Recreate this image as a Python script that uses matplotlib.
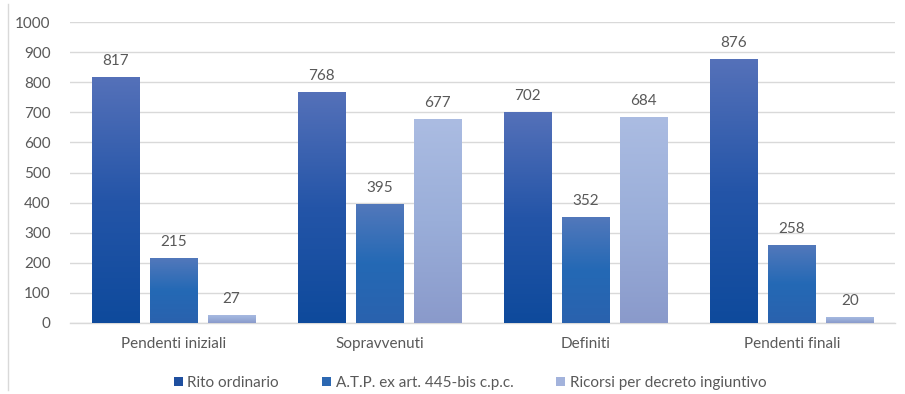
import numpy as np
import matplotlib
matplotlib.use("Agg")
import matplotlib.pyplot as plt
from matplotlib.colors import LinearSegmentedColormap
from matplotlib.patches import Patch
from matplotlib.lines import Line2D

categories = ["Pendenti iniziali", "Sopravvenuti", "Definiti", "Pendenti finali"]
series_names = ["Rito ordinario", "A.T.P. ex art. 445-bis c.p.c.", "Ricorsi per decreto ingiuntivo"]
rito_ordinario = [817, 768, 702, 876]
atp = [215, 395, 352, 258]
decreto_ingiuntivo = [27, 677, 684, 20]
y_ticks = [0, 100, 200, 300, 400, 500, 600, 700, 800, 900, 1000]

series_values = [rito_ordinario, atp, decreto_ingiuntivo]
# gradient stops, bottom -> top
gradients = [
    ["#0e4a9c", "#2455a8", "#5571b9"],
    ["#2a62ae", "#2469b5", "#5278bb"],
    ["#8a9acb", "#9aaed9", "#abbce2"],
]
legend_colors = ["#1f4f9f", "#2c68b2", "#a3b3dc"]

plt.rcParams["font.family"] = ["Lato", "DejaVu Sans"]
text_color = "#595959"

fig = plt.figure(figsize=(9.05, 3.94), dpi=100)
ax = fig.add_axes([70 / 905, (394 - 323) / 394, 825 / 905, 301 / 394])

x = np.arange(len(categories))
width = 0.228
step = 0.281
offsets = [-step, 0, step]

grad = np.linspace(0, 1, 256).reshape(-1, 1)
for vals, off, stops in zip(series_values, offsets, gradients):
    cmap = LinearSegmentedColormap.from_list("g", stops)
    bars = ax.bar(x + off, vals, width, color="none", edgecolor="none", zorder=3)
    for b, v in zip(bars, vals):
        x0 = b.get_x()
        im = ax.imshow(grad, cmap=cmap, origin="lower", aspect="auto",
                       extent=(x0, x0 + width, 0, v), zorder=3, interpolation="bilinear")
        im.set_clip_path(b)
        ax.text(x0 + width / 2, v + 30, str(v), ha="center", va="bottom",
                fontsize=11, color=text_color, zorder=4)

ax.set_xlim(-0.5, len(categories) - 0.5)
ax.set_ylim(0, 1000)
ax.set_yticks(y_ticks)
ax.set_yticklabels([str(t) for t in y_ticks], fontsize=11, color=text_color)
ax.set_xticks(x)
ax.set_xticklabels(categories, fontsize=11, color=text_color)
ax.tick_params(axis="both", length=0)
ax.tick_params(axis="y", pad=14)
ax.tick_params(axis="x", pad=10)
ax.grid(axis="y", color="#d9d9d9", linewidth=1, zorder=0)
ax.set_axisbelow(True)
for s in ["top", "right", "left"]:
    ax.spines[s].set_visible(False)
ax.spines["bottom"].set_color("#d9d9d9")
ax.spines["bottom"].set_linewidth(1)

handles = [Patch(facecolor=c, edgecolor="none") for c in legend_colors]
fig.legend(handles, series_names, loc="center", bbox_to_anchor=(470 / 905, 1 - 383 / 394),
           ncol=3, frameon=False, fontsize=11, handlelength=0.6, handleheight=0.6,
           handletextpad=0.3, columnspacing=2.8, labelcolor=text_color)

# thin frame line at the left edge
fig.add_artist(Line2D([8 / 905, 8 / 905], [4 / 394, 390 / 394], color="#d9d9d9",
                      linewidth=1, transform=fig.transFigure))

fig.savefig("out.png", dpi=100)
